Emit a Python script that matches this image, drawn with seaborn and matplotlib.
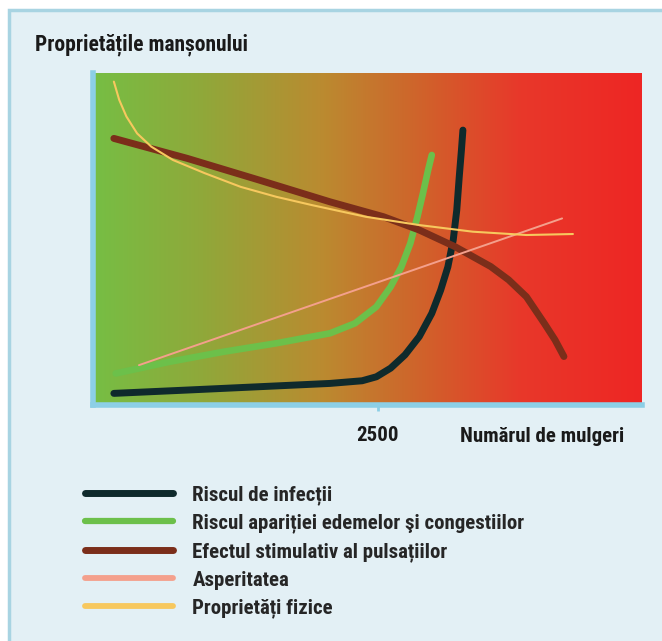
import numpy as np
import pandas as pd
import matplotlib
matplotlib.use('Agg')
import matplotlib.pyplot as plt
from matplotlib.colors import LinearSegmentedColormap
from matplotlib.lines import Line2D
from matplotlib.patches import Rectangle
import seaborn as sns

sns.set_theme(style='white')
plt.rcParams['font.family'] = ['Roboto Condensed', 'PT Sans Narrow', 'DejaVu Sans']

# curve data (x = numarul de mulgeri, y = relative level 0-100)
infectii_x = [183, 825, 1453, 2079, 2361, 2486, 2611, 2737, 2862, 2972, 3050, 3113, 3160, 3191, 3213, 3232, 3245]
infectii_y = [3.5, 4.5, 5.5, 6.5, 7.3, 8.5, 11.1, 15.1, 20.6, 27.6, 34.6, 41.6, 49.7, 58.7, 68.8, 76.8, 82.8]

edeme_x = [199, 669, 1139, 1609, 2079, 2298, 2486, 2611, 2705, 2784, 2846, 2894, 2940, 2972]
edeme_y = [9.5, 13.0, 16.0, 18.6, 21.6, 24.6, 29.6, 35.6, 41.6, 48.7, 56.7, 63.7, 70.8, 75.3]

stimul_x = [183, 825, 1453, 2079, 2549, 2862, 3175, 3332, 3489, 3646, 3802, 3959, 4053, 4131]
stimul_y = [80.3, 74.3, 67.8, 61.2, 56.7, 52.7, 47.7, 44.7, 41.7, 37.7, 32.6, 24.6, 19.6, 14.6]

asperitate_x = [403, 4115]
asperitate_y = [12.0, 56.2]

fizice_x = [183, 230, 293, 387, 512, 701, 982, 1296, 1609, 1922, 2392, 2862, 3332, 3802, 4210]
fizice_y = [97.4, 91.9, 86.9, 81.8, 77.8, 73.8, 69.8, 65.7, 62.7, 60.2, 56.7, 54.2, 52.2, 51.2, 51.5]

labels = ['Riscul de infecții',
          'Riscul apariției edemelor şi congestiilor',
          'Efectul stimulativ al pulsațiilor',
          'Asperitatea',
          'Proprietăți fizice']
colors = ['#0f2a2c', '#6cc04a', '#7b2e1a', '#f4a08c', '#f7c85e']

fig = plt.figure(figsize=(6.62, 6.41), dpi=100)
fig.patch.set_facecolor('white')
# panel background
fig.patches.append(Rectangle((9 / 662, -0.01), 1.0, (641 - 10) / 641 + 0.01,
                             transform=fig.transFigure, facecolor='#e3f0f5',
                             edgecolor='#a8d4e2', linewidth=2.5, zorder=-10))

fig.text(35 / 662, 1 - 45 / 641, 'Proprietățile manșonului', fontsize=15.5,
         fontweight='bold', va='center', ha='left', color='#1a1a1a')

ax = fig.add_axes([93 / 662, 1 - 405 / 641, (642 - 93) / 662, (405 - 73) / 641])
ax.set_zorder(1)
xmax = 4816
ax.set_xlim(0, xmax)
ax.set_ylim(0, 100)

grad = LinearSegmentedColormap.from_list('g', [
    (0.0, '#76be44'), (0.2, '#90a83a'), (0.42, '#bb8a30'),
    (0.6, '#d0622b'), (0.78, '#e8382a'), (1.0, '#ee2624')])
ax.imshow(np.linspace(0, 1, 256).reshape(1, -1), cmap=grad, aspect='auto',
          extent=[0, xmax, 0, 100], zorder=0)

series = [(infectii_x, infectii_y, 5.0), (edeme_x, edeme_y, 4.8),
          (stimul_x, stimul_y, 5.0), (asperitate_x, asperitate_y, 1.4),
          (fizice_x, fizice_y, 1.5)]
for (xs, ys, lw), lab, col in zip(series, labels, colors):
    df = pd.DataFrame({'x': xs, 'y': ys})
    sns.lineplot(data=df, x='x', y='y', ax=ax, color=col, linewidth=lw,
                 sort=False, estimator=None, solid_capstyle='round',
                 solid_joinstyle='round', zorder=3)

ax.set_xlabel('')
ax.set_ylabel('')
ax.set_yticks([])
ax.set_xticks([2500])
ax.set_xticklabels(['2500'], fontsize=15, fontweight='bold', color='#1a1a1a')
ax.tick_params(axis='x', direction='out', length=4, width=2, color='#8ccfe6',
               pad=11, bottom=True)
for side in ['top', 'right']:
    ax.spines[side].set_visible(False)
ax.spines['left'].set_color('#8ccfe6')
ax.spines['left'].set_linewidth(4)
ax.spines['bottom'].set_color('#8ccfe6')
ax.spines['bottom'].set_linewidth(4)

ax.text((624 - 93) / 549, -32 / 332, 'Numărul de mulgeri', transform=ax.transAxes,
        ha='right', va='center', fontsize=15, fontweight='bold', color='#1a1a1a')

handles = [Line2D([0], [0], color=c, linewidth=w, solid_capstyle='round')
           for c, w in zip(colors, [5.0, 4.5, 5.0, 4.2, 4.2])]
fig.legend(handles, labels, loc='upper left',
           bbox_to_anchor=(85 / 662, 1 - 485 / 641), frameon=False,
           borderpad=0, borderaxespad=0,
           handlelength=4.2, handletextpad=0.95, labelspacing=0.42,
           prop={'weight': 'bold', 'size': 15})

fig.savefig('out.png', dpi=100)
